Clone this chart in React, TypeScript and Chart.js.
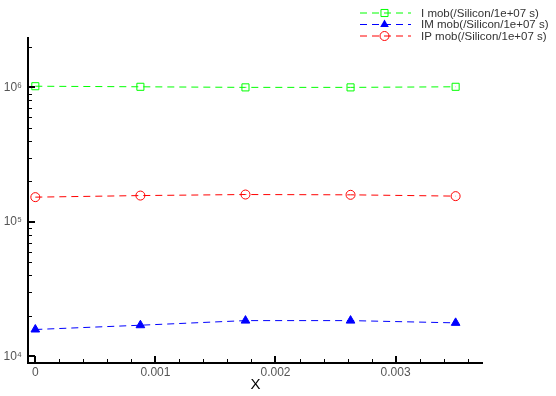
import React, { useEffect, useRef } from 'react';
import { Chart, registerables } from 'chart.js';

Chart.register(...registerables);

// ---- data ----
const xValues = [0, 0.000875, 0.00175, 0.002625, 0.0035];
const iMob = [1.02e6, 1.01e6, 1.0e6, 1.0e6, 1.01e6];
const imMob = [1.58e4, 1.7e4, 1.84e4, 1.84e4, 1.77e4];
const ipMob = [1.525e5, 1.567e5, 1.595e5, 1.587e5, 1.552e5];
const seriesLabels = [
  'I mob(/Silicon/1e+07 s)',
  'IM mob(/Silicon/1e+07 s)',
  'IP mob(/Silicon/1e+07 s)',
];
const xMajorTicks = [0, 0.001, 0.002, 0.003];
const xTickLabels = ['0', '0.001', '0.002', '0.003'];
const xMinorStep = 0.0002;
const yMajorTicks = [1e4, 1e5, 1e6];
const yTickLabels = ['10\u2074', '10\u2075', '10\u2076'];
const xTitle = 'X';

const X_MIN = -0.000061;
const X_MAX = 0.003728;
const Y_MIN = 8.9e3;
const Y_MAX = 2.37e6;

const colors = ['#00ff00', '#0000ff', '#ff0000'];
const pointStyles = ['rect', 'triangle', 'circle'];
const pointRadius = [5, 5, 4.5];

function buildXTicks() {
  const out: number[] = [];
  for (let i = 0; i * xMinorStep <= X_MAX + 1e-12; i++) {
    out.push(+(i * xMinorStep).toFixed(6));
  }
  return out;
}

function buildYTicks() {
  const out: number[] = [];
  for (let e = 3; e <= 7; e++) {
    for (let k = 1; k <= 9; k++) {
      const v = +(k * Math.pow(10, e)).toPrecision(6);
      if (v >= Y_MIN && v <= Y_MAX) out.push(v);
    }
  }
  return out;
}

function drawMarker(ctx: CanvasRenderingContext2D, style: string, x: number, y: number, r: number, color: string) {
  ctx.save();
  ctx.strokeStyle = color;
  ctx.fillStyle = color;
  ctx.lineWidth = 1;
  ctx.setLineDash([]);
  ctx.beginPath();
  if (style === 'rect') {
    const s = r * Math.SQRT1_2;
    ctx.rect(x - s, y - s, 2 * s, 2 * s);
    ctx.stroke();
  } else if (style === 'circle') {
    ctx.arc(x, y, r, 0, Math.PI * 2);
    ctx.stroke();
  } else {
    ctx.moveTo(x, y - r);
    ctx.lineTo(x - r * 0.866, y + r * 0.5);
    ctx.lineTo(x + r * 0.866, y + r * 0.5);
    ctx.closePath();
    ctx.fill();
  }
  ctx.restore();
}

const axesPlugin = {
  id: 'tecAxes',
  afterDraw(chart: any) {
    const ctx: CanvasRenderingContext2D = chart.ctx;
    const area = chart.chartArea;
    const xs = chart.scales.x;
    const ys = chart.scales.y;
    ctx.save();
    ctx.strokeStyle = '#000';
    ctx.setLineDash([]);
    // axis lines
    ctx.lineWidth = 2;
    ctx.beginPath();
    ctx.moveTo(area.left, area.top);
    ctx.lineTo(area.left, area.bottom + 1);
    ctx.moveTo(area.left - 1, area.bottom);
    ctx.lineTo(area.right, area.bottom);
    ctx.stroke();
    // x ticks (inward)
    xs.ticks.forEach((t: any) => {
      const major = xMajorTicks.some((m) => Math.abs(m - t.value) < 1e-9);
      const px = Math.round(xs.getPixelForValue(t.value)) + (major ? 0 : 0.5);
      ctx.lineWidth = major ? 2 : 1;
      ctx.beginPath();
      ctx.moveTo(px, area.bottom);
      ctx.lineTo(px, area.bottom - (major ? 7 : 4));
      ctx.stroke();
    });
    // y ticks (inward)
    ys.ticks.forEach((t: any) => {
      const major = yMajorTicks.some((m) => Math.abs(m - t.value) / m < 1e-6);
      const py = Math.round(ys.getPixelForValue(t.value)) + (major ? 0 : 0.5);
      ctx.lineWidth = major ? 2 : 1;
      ctx.beginPath();
      ctx.moveTo(area.left, py);
      ctx.lineTo(area.left + (major ? 7 : 4), py);
      ctx.stroke();
    });
    ctx.restore();

    // legend
    ctx.save();
    const rows = [12.5, 24, 35.5];
    chart.data.datasets.forEach((ds: any, i: number) => {
      const y = rows[i];
      ctx.strokeStyle = colors[i];
      ctx.lineWidth = 1;
      ctx.setLineDash([7, 5]);
      ctx.beginPath();
      ctx.moveTo(360, y + 0.5);
      ctx.lineTo(411, y + 0.5);
      ctx.stroke();
      drawMarker(ctx, pointStyles[i], 384.5, y + 0.5, pointRadius[i], colors[i]);
      ctx.setLineDash([]);
      ctx.fillStyle = '#333';
      ctx.font = '11.5px "Liberation Sans", Arial, sans-serif';
      ctx.textBaseline = 'middle';
      ctx.textAlign = 'left';
      ctx.fillText(ds.label, 421, y + 1);
    });
    ctx.restore();
  },
};

export default function App() {
  const ref = useRef<HTMLCanvasElement>(null);
  useEffect(() => {
    if (!ref.current) return;
    const datasets = [iMob, imMob, ipMob].map((arr, i) => ({
      label: seriesLabels[i],
      data: arr.map((v, j) => ({ x: xValues[j], y: v })),
      borderColor: colors[i],
      backgroundColor: i === 1 ? colors[i] : 'rgba(0,0,0,0)',
      borderWidth: 1,
      borderDash: [7, 5],
      pointStyle: pointStyles[i],
      pointRadius: pointRadius[i],
      pointBorderWidth: 1,
      pointBorderColor: colors[i],
      pointBackgroundColor: i === 1 ? colors[i] : 'rgba(0,0,0,0)',
      tension: 0,
      fill: false,
    }));
    const chart = new Chart(ref.current, {
      type: 'line',
      data: { datasets },
      options: {
        animation: false,
        responsive: false,
        maintainAspectRatio: false,
        layout: { padding: { left: 0, right: 73, top: 37, bottom: 0 } },
        plugins: { legend: { display: false }, tooltip: { enabled: false } },
        scales: {
          x: {
            type: 'linear',
            min: X_MIN,
            max: X_MAX,
            afterBuildTicks: (s: any) => {
              s.ticks = buildXTicks().map((v) => ({ value: v }));
            },
            afterFit: (s: any) => {
              s.height = 33;
            },
            grid: { display: false, drawTicks: false },
            border: { display: false },
            ticks: {
              autoSkip: false,
              maxRotation: 0,
              padding: 2,
              color: '#555',
              font: { family: '"Liberation Sans", Arial, sans-serif', size: 12 },
              callback: (v: any) => {
                const idx = xMajorTicks.findIndex((m) => Math.abs(m - v) < 1e-9);
                return idx >= 0 ? xTickLabels[idx] : '';
              },
            },
            title: {
              display: true,
              text: xTitle,
              color: '#000',
              padding: { top: 0, bottom: 2 },
              font: { family: '"Liberation Sans", Arial, sans-serif', size: 15 },
            },
          },
          y: {
            type: 'logarithmic',
            min: Y_MIN,
            max: Y_MAX,
            afterBuildTicks: (s: any) => {
              s.ticks = buildYTicks().map((v) => ({ value: v }));
            },
            afterFit: (s: any) => {
              s.width = 28;
            },
            grid: { display: false, drawTicks: false },
            border: { display: false },
            ticks: {
              autoSkip: false,
              padding: 6,
              color: '#555',
              font: { family: '"Liberation Sans", Arial, sans-serif', size: 12 },
              callback: (v: any) => {
                const idx = yMajorTicks.findIndex((m) => Math.abs(m - v) / m < 1e-6);
                return idx >= 0 ? yTickLabels[idx] : '';
              },
            },
          },
        },
      },
      plugins: [axesPlugin],
    } as any);
    return () => chart.destroy();
  }, []);
  return (
    <div style={{ position: 'fixed', left: 0, top: 0, width: 556, height: 396, background: '#fff' }}>
      <canvas ref={ref} width={556} height={396} style={{ display: 'block' }} />
    </div>
  );
}
